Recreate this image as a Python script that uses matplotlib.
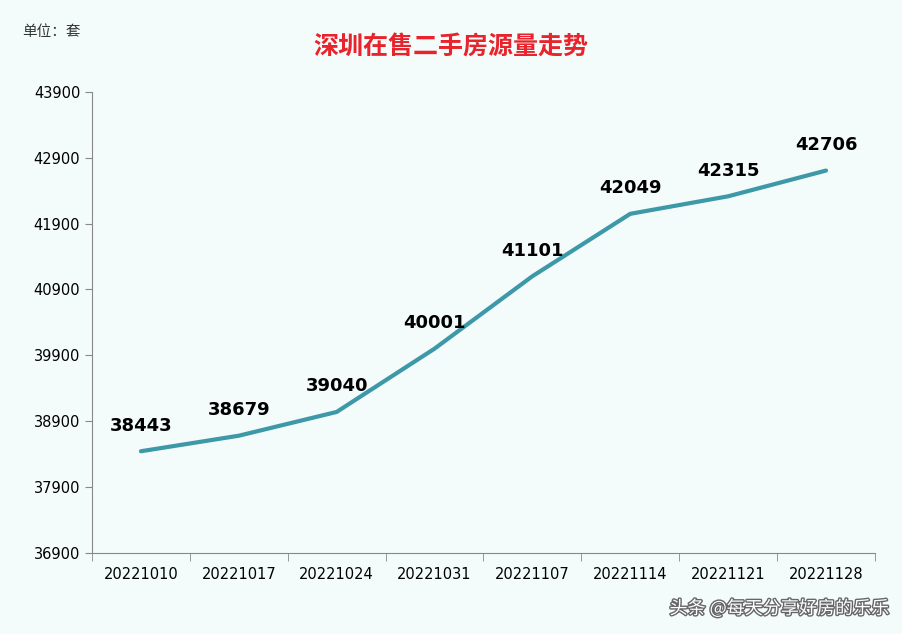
import numpy as np
import matplotlib.pyplot as plt
import matplotlib.patheffects as pe

plt.rcParams['font.family'] = ['Noto Sans CJK SC', 'DejaVu Sans']

dates = ['20221010', '20221017', '20221024', '20221031', '20221107', '20221114', '20221121', '20221128']
counts = [38443, 38679, 39040, 40001, 41101, 42049, 42315, 42706]
yticks = [36900, 37900, 38900, 39900, 40900, 41900, 42900, 43900]

bg = '#f4fbfb'
fig = plt.figure(figsize=(9.02, 6.34), dpi=100, facecolor=bg)
ax = fig.add_axes([0.102, 0.128, 0.868, 0.727], facecolor=bg)

x = np.arange(len(dates))
ax.plot(x, counts, color='#3d98a8', linewidth=3, solid_capstyle='round')
for xi, v in zip(x, counts):
    ax.text(xi, v + 250, str(v), ha='center', va='bottom', fontsize=13, fontweight='bold',
            color='black', family='DejaVu Sans')

ax.set_xlim(-0.5, len(dates) - 0.5)
ax.set_ylim(36900, 43900)
ax.set_yticks(yticks)
ax.set_yticklabels([str(t) for t in yticks], fontsize=10.5, family='DejaVu Sans')
ax.set_xticks(x)
ax.set_xticklabels(dates, fontsize=10.5, family='DejaVu Sans')
ax.tick_params(axis='x', length=0, pad=10)
ax.set_xticks(np.arange(-0.5, len(dates)), minor=True)
ax.tick_params(axis='x', which='minor', length=6, direction='out', color='#888888')
ax.tick_params(axis='y', length=5, direction='out', color='#888888')
for s in ['top', 'right']:
    ax.spines[s].set_visible(False)
for s in ['left', 'bottom']:
    ax.spines[s].set_color('#888888')

fig.text(0.5, 0.925, '深圳在售二手房源量走势', ha='center', va='center', fontsize=18, fontweight='bold', color='#e8232b')
fig.text(0.025, 0.95, '单位：套', ha='left', va='center', fontsize=10.5, color='#333333')
fig.text(0.985, 0.04, '头条 @每天分享好房的乐乐', ha='right', va='center', fontsize=13, color='white',
         path_effects=[pe.withStroke(linewidth=2, foreground='#666666')])

fig.savefig('out.png', dpi=100, facecolor=bg)
